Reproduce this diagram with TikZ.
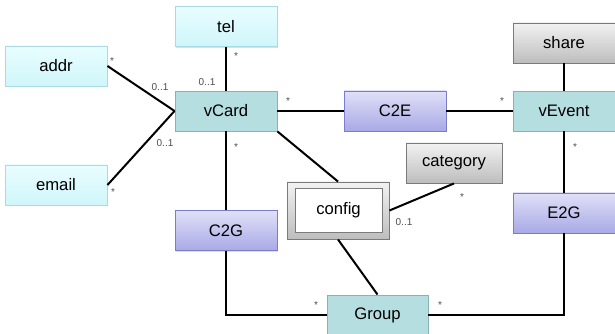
\documentclass[tikz,border=0pt]{standalone}
\usepackage{fontspec}
\setmainfont{Liberation Sans}
\usetikzlibrary{shadows}

\definecolor{cyanfillA}{HTML}{E9FDFF}
\definecolor{cyanfillB}{HTML}{CFF6FA}
\definecolor{cyanline}{HTML}{A9DCE2}
\definecolor{tealfill}{HTML}{B5DEE1}
\definecolor{tealline}{HTML}{87B3B6}
\definecolor{lavfillA}{HTML}{E0E0F8}
\definecolor{lavfillB}{HTML}{A9A9E6}
\definecolor{lavline}{HTML}{7C7CCC}
\definecolor{grayfillA}{HTML}{F2F2F2}
\definecolor{grayfillB}{HTML}{BDBDBD}
\definecolor{grayline}{HTML}{7A7A7A}

\begin{document}
\begin{tikzpicture}[x=0.75pt,y=-0.75pt,
	box/.style={minimum width=76.5pt, minimum height=30pt, inner sep=0pt,
		font=\fontsize{12.5}{14}\selectfont, line width=0.7pt,
		drop shadow={shadow xshift=0.8pt, shadow yshift=-0.8pt, opacity=0.25}},
	leaf/.style={box, draw=cyanline, top color=cyanfillA, bottom color=cyanfillB},
	entity/.style={box, draw=tealline, fill=tealfill},
	link/.style={box, draw=lavline, top color=lavfillA, bottom color=lavfillB},
	ext/.style={box, draw=grayline, top color=grayfillA, bottom color=grayfillB},
	rel/.style={line width=1.5pt, black},
	mult/.style={font=\fontsize{7.5}{8}\selectfont, text=black!70, inner sep=0pt}]
	\useasboundingbox (0,0) rectangle (615,334);

	% nodes
	\node[leaf] (tel) at (226,26.5) {tel};
	\node[leaf] (addr) at (56,66) {addr};
	\node[leaf] (email) at (56,185) {email};
	\node[entity] (vcard) at (226,111) {vCard};
	\node[link] (c2e) at (395,111) {C2E};
	\node[entity] (vevent) at (564,111) {vEvent};
	\node[ext] (share) at (564,43) {share};
	\node[ext, minimum width=72pt] (category) at (454,163) {category};
	\node[link] (c2g) at (226,230.5) {C2G};
	\node[link] (e2g) at (564,213) {E2G};
	\node[entity, minimum width=75.75pt] (group) at (377.5,315) {Group};
	\node[ext, minimum width=76.5pt, minimum height=42.75pt] (config) at (338,210.5) {};
	\node[draw=grayline, fill=white, line width=0.7pt, minimum width=65.25pt,
		minimum height=33pt, inner sep=0pt, font=\fontsize{12.5}{14}\selectfont]
		(configin) at (338.5,210) {config};

	%lines
	\draw[rel] (addr.east) -- (vcard.west);
	\draw[rel] (email.east) -- (vcard.west);
	\draw[rel] (tel) -- (vcard);
	\draw[rel] (vcard) -- (c2e);
	\draw[rel] (c2e) -- (vevent);
	\draw[rel] (share) -- (vevent);
	\draw[rel] (vevent) -- (e2g);
	\draw[rel] (vcard) -- (c2g);
	\draw[rel] (c2g.south) |- (group.west);
	\draw[rel] (e2g.south) |- (group.east);
	\draw[rel] (vcard.south east) -- (config.north);
	\draw[rel] (config.south) -- (group.north);
	\draw[rel] (config.east) -- (category.south);

	% multiplicities
	\node[mult] (m1) at (112,61) {*};
	\node[mult] (m2) at (160,87) {0..1};
	\node[mult] (m3) at (165,143) {0..1};
	\node[mult] (m4) at (113,192) {*};
	\node[mult] (m5) at (236,56) {*};
	\node[mult] (m6) at (207,82) {0..1};
	\node[mult] (m7) at (288,101) {*};
	\node[mult] (m8) at (502,101) {*};
	\node[mult] (m9) at (575,147) {*};
	\node[mult] (m10) at (236,147) {*};
	\node[mult] (m11) at (316,305) {*};
	\node[mult] (m12) at (440,305) {*};
	\node[mult] (m13) at (462,197) {*};
	\node[mult] (m14) at (404,222) {0..1};
\end{tikzpicture}
\end{document}
